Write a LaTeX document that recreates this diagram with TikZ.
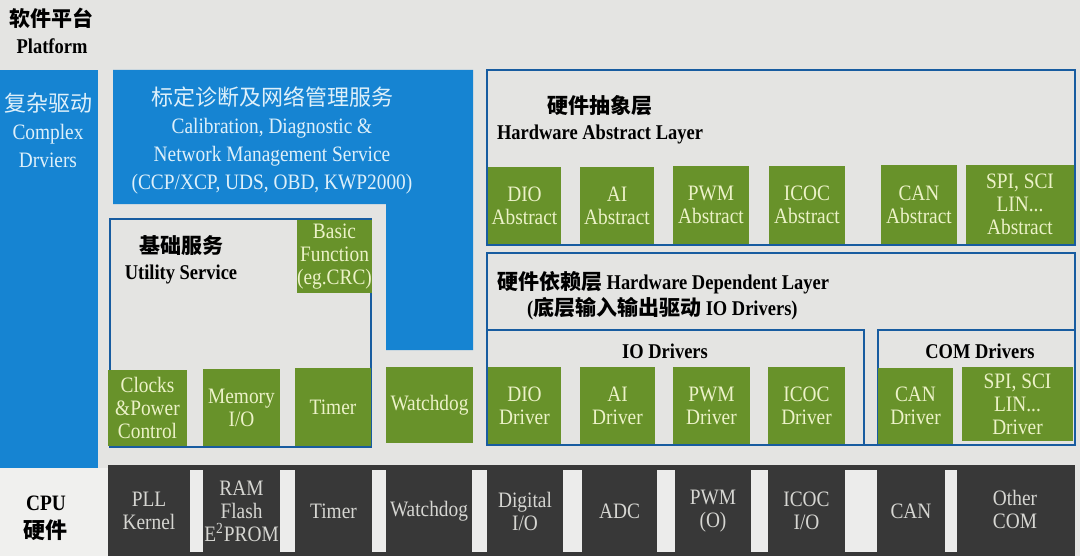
\documentclass[tikz,border=0pt]{standalone}
\usepackage{fontspec}
\setmainfont{Liberation Serif}[FakeStretch=0.88]
\newfontfamily\cjk{Noto Sans CJK SC}
\definecolor{bg}{RGB}{228,228,226}
\definecolor{blu}{RGB}{22,132,210}
\definecolor{btxt}{RGB}{222,240,250}
\definecolor{grn}{RGB}{104,146,42}
\definecolor{gtxt}{RGB}{236,242,200}
\definecolor{drk}{RGB}{56,56,56}
\definecolor{dtxt}{RGB}{214,214,210}
\definecolor{obl}{RGB}{24,92,160}
\definecolor{cpubg}{RGB}{240,240,238}
\newcommand\bx[7]{\node[#2,anchor=north west,minimum width={(#5-#3)*0.5pt},minimum height={(#6-#4)*0.5pt}] (#1) at (#3,#4) {#7};}
\begin{document}
\begin{tikzpicture}[x=0.5pt,y=-0.5pt,
  every node/.style={inner sep=0pt,outer sep=0pt},
  gbox/.style={fill=grn,text=gtxt,align=center,font=\fontsize{11}{11.5}\selectfont},
  dbox/.style={fill=drk,text=dtxt,align=center,font=\fontsize{11}{11.5}\selectfont},
  obox/.style={draw=obl,line width=1pt},
  btext/.style={text=btxt,align=center,font=\fontsize{11}{14}\selectfont},
  ktext/.style={text=black,align=center,font=\bfseries\fontsize{10.5}{13}\selectfont}]
\useasboundingbox (0,0) rectangle (1080,556);
\fill[bg] (0,0) rectangle (1080,556);
% title
\node[ktext,font=\bfseries\fontsize{10.5}{13.5}\selectfont] (plat) at (52,31) {{\cjk 软件平台}\\Platform};
% complex drivers
\bx{cdd}{fill=blu}{0}{70}{98}{468}{}
\node[btext] (cddt) at (48,130) {{\cjk 复杂驱动}\\Complex\\Drviers};
% calibration L shape
\fill[blu] (113,70) -- (473,70) -- (473,350) -- (386,350) -- (386,204) -- (113,204) -- cycle;
\node[btext] (calt) at (272,140) {{\cjk 标定诊断及网络管理服务}\\Calibration, Diagnostic \&\\Network Management Service\\(CCP/XCP, UDS, OBD, KWP2000)};
% utility service
\bx{util}{obox}{110}{219}{371}{447}{}
\node[ktext] (utilt) at (181,260) {{\cjk 基础服务}\\Utility Service};
\bx{basic}{gbox}{297}{220}{372}{293}{Basic\\Function\\(eg.CRC)}
\bx{clk}{gbox}{108}{370}{187}{446}{Clocks\\\&Power\\Control}
\bx{mem}{gbox}{203}{369}{280}{446}{Memory\\I/O}
\bx{tim}{gbox}{295}{368}{371}{446}{Timer}
\bx{wdg}{gbox}{386}{367}{473}{443}{Watchdog}
% HAL
\bx{hal}{obox}{487}{70}{1075}{245}{}
\node[ktext] (halt) at (600,120) {{\cjk 硬件抽象层}\\Hardware Abstract Layer};
\bx{a1}{gbox}{488}{167}{561}{244}{DIO\\Abstract}
\bx{a2}{gbox}{580}{167}{654}{244}{AI\\Abstract}
\bx{a3}{gbox}{673}{166}{749}{244}{PWM\\Abstract}
\bx{a4}{gbox}{769}{166}{845}{244}{ICOC\\Abstract}
\bx{a5}{gbox}{881}{165}{957}{244}{CAN\\Abstract}
\bx{a6}{gbox}{966}{165}{1074}{244}{SPI, SCI\\LIN...\\Abstract}
% HDL
\bx{hdl}{obox}{487}{253}{1075}{445}{}
\node[ktext,align=left,anchor=west] (hdlt) at (497,296) {{\cjk 硬件依赖层} Hardware Dependent Layer\\\hspace*{15pt}({\cjk 底层输入输出驱动} IO Drivers)};
\bx{iod}{obox}{487}{330}{864}{445}{}
\node[ktext] (iodt) at (665,351) {IO Drivers};
\bx{comd}{obox}{878}{330}{1075}{445}{}
\node[ktext] (comdt) at (980,351) {COM Drivers};
\bx{d1}{gbox}{488}{367}{561}{444}{DIO\\Driver}
\bx{d2}{gbox}{580}{367}{655}{444}{AI\\Driver}
\bx{d3}{gbox}{673}{367}{750}{444}{PWM\\Driver}
\bx{d4}{gbox}{768}{367}{845}{444}{ICOC\\Driver}
\bx{d5}{gbox}{878}{368}{953}{444}{CAN\\Driver}
\bx{d6}{gbox}{962}{367}{1073}{441}{SPI, SCI\\LIN...\\Driver}
% CPU row
\fill[drk] (108,465) rectangle (1075,556);
\bx{cpu}{fill=cpubg}{0}{468}{108}{556}{}
\node[ktext,font=\bfseries\fontsize{11}{14}\selectfont] (cput) at (46,518) {CPU\\{\cjk 硬件}};
\bx{h1}{dbox}{108}{466}{190}{556}{PLL\\Kernel}
\bx{h2}{dbox}{203}{466}{280}{556}{RAM\\Flash\\E\textsuperscript{2}PROM}
\bx{h3}{dbox}{295}{466}{372}{556}{Timer}
\bx{h4}{dbox}{386}{466}{472}{556}{Watchdog}
\bx{h5}{dbox}{487}{466}{563}{556}{Digital\\I/O}
\bx{h6}{dbox}{582}{466}{657}{556}{ADC}
\bx{h7}{dbox}{675}{466}{751}{556}{PWM\\(O)}
\bx{h8}{dbox}{768}{466}{845}{556}{ICOC\\I/O}
\bx{h9}{dbox}{877}{466}{945}{556}{CAN}
\bx{h10}{dbox}{957}{466}{1073}{552}{Other\\COM}
\foreach \a/\b in {190/203,280/295,372/386,472/487,563/582,657/675,751/768,845/877,945/957}
  \fill[bg!70!white] (\a,470) rectangle (\b,552);
\end{tikzpicture}
\end{document}
